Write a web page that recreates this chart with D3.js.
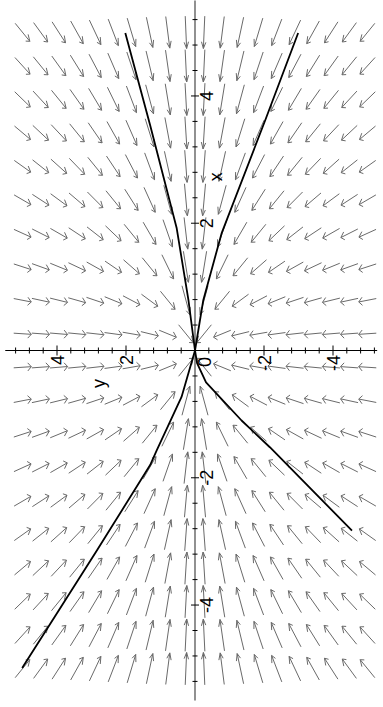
<!DOCTYPE html>
<html>
<head>
<meta charset="utf-8">
<script src="https://cdn.jsdelivr.net/npm/d3@7"></script>
<style>
  html, body { margin: 0; padding: 0; background: #fff; }
  svg { display: block; }
</style>
</head>
<body>
<script>
// Direction field of the linear system  x' = -x ,  y' = -(3/2) y
// drawn turned a quarter turn: x runs up the page, y runs to the left.
const rateX = -1;
const rateY = -1.5;

// arrow grid: 20 x 20 points on [-5, 5] in both variables
const gridExtent = [-5, 5];
const gridCount = 20;
const arrowLength = 0.51;      // in plot units
const barbLength = 0.12;
const barbAngle = 32;          // degrees

// plot window
const xView = [-5.5, 5.5];
const yView = [-5.28, 5.5];
const tickStep = 0.4;
const tickLimit = 5.2;
const xLabels = [-4, -2, 2, 4];
const yLabels = [-4, -2, 2, 4];

// solution curves, as [x, y] points
const curveUpperLeft  = [[0, 0], [0.79, 0.19], [1.92, 0.53], [3.54, 1.30], [4.99, 2.02]];
const curveUpperRight = [[0, 0], [0.79, -0.24], [1.84, -0.77], [3.61, -2.03], [4.99, -2.99]];
const curveLowerRight = [[0, 0], [-0.2, -0.06], [-0.5, -0.32], [-1.10, -1.35], [-1.52, -2.17], [-2.83, -4.55]];
const curveLowerLeft  = [[0, 0], [-0.73, 0.39], [-1.57, 1.11], [-1.80, 1.30], [-3.14, 2.84], [-4.99, 5.01]];
const curves = [curveUpperLeft, curveUpperRight, curveLowerRight, curveLowerLeft];

const W = 383, H = 707;
const svg = d3.select("body").append("svg").attr("width", W).attr("height", H);

// x (vertical on the page) and y (horizontal, increasing to the left)
const sx = d3.scaleLinear().domain([-5.5, 5.5]).range([700.5, 0.5]);
const sy = d3.scaleLinear().domain([5.5, -5.5]).range([5.25, 384.75]);

// ---- direction field ----
const gx = d3.range(gridCount).map(i => gridExtent[0] + i * (gridExtent[1] - gridExtent[0]) / (gridCount - 1));
const pts = [];
gx.forEach(x => gx.forEach(y => pts.push([x, y])));

const rad = barbAngle * Math.PI / 180;
function arrowPath([x, y]) {
  let vx = rateX * x, vy = rateY * y;
  const n = Math.hypot(vx, vy);
  if (n === 0) return "";
  vx /= n; vy /= n;
  const tx = x - vx * arrowLength / 2, ty = y - vy * arrowLength / 2;
  const hx = x + vx * arrowLength / 2, hy = y + vy * arrowLength / 2;
  const b = s => {
    const c = Math.cos(s * rad), si = Math.sin(s * rad);
    const bx = -(vx * c - vy * si), by = -(vx * si + vy * c);
    return [hx + bx * barbLength, hy + by * barbLength];
  };
  const b1 = b(1), b2 = b(-1);
  const P = (a, c) => `${sy(c).toFixed(2)},${sx(a).toFixed(2)}`;
  return `M${P(tx, ty)}L${P(hx, hy)}M${P(b1[0], b1[1])}L${P(hx, hy)}L${P(b2[0], b2[1])}`;
}

svg.append("g")
  .attr("fill", "none")
  .attr("stroke", "#6a6a6a")
  .attr("stroke-width", 1)
  .selectAll("path")
  .data(pts)
  .join("path")
  .attr("d", arrowPath);

// ---- axes through the origin ----
const axes = svg.append("g").attr("stroke", "#000").attr("fill", "none");
// horizontal axis (y)
axes.append("line")
  .attr("x1", sy(yView[1])).attr("x2", sy(yView[0]))
  .attr("y1", sx(0)).attr("y2", sx(0))
  .attr("stroke-width", 1.2);
// vertical axis (x)
axes.append("line")
  .attr("x1", sy(0)).attr("x2", sy(0))
  .attr("y1", sx(xView[1])).attr("y2", sx(xView[0]))
  .attr("stroke", "#555")
  .attr("stroke-width", 1.3);

const ticks = d3.range(-tickLimit, tickLimit + 1e-9, tickStep).map(v => +v.toFixed(2)).filter(v => Math.abs(v) > 1e-9);
const isMajor = v => Math.abs(v / 2 - Math.round(v / 2)) < 1e-6;

axes.selectAll("line.yt").data(ticks).join("line")
  .attr("class", "yt")
  .attr("x1", d => sy(d)).attr("x2", d => sy(d))
  .attr("y1", d => sx(0) - (isMajor(d) ? 5 : 3))
  .attr("y2", d => sx(0) + (isMajor(d) ? 5 : 3))
  .attr("stroke-width", 1);

axes.selectAll("line.xt").data(ticks).join("line")
  .attr("class", "xt")
  .attr("y1", d => sx(d)).attr("y2", d => sx(d))
  .attr("x1", d => sy(0) - (isMajor(d) ? 4 : 2.5))
  .attr("x2", d => sy(0) + (isMajor(d) ? 4 : 2.5))
  .attr("stroke-width", 1);

// ---- solution curves ----
const line = d3.line().x(d => sy(d[1])).y(d => sx(d[0]));
svg.append("g")
  .attr("fill", "none")
  .attr("stroke", "#000")
  .attr("stroke-width", 1.8)
  .attr("stroke-linejoin", "round")
  .selectAll("path")
  .data(curves)
  .join("path")
  .attr("d", line);

// ---- labels (turned with the plot) ----
const font = "'Liberation Sans', Arial, Helvetica, sans-serif";
const fs = 18;
const lab = svg.append("g").attr("font-family", font).attr("font-size", fs).attr("fill", "#000");
const fmt = d => d < 0 ? "-" + Math.abs(d) : String(d);

// y tick labels below the horizontal axis
lab.selectAll("text.yl").data(yLabels).join("text")
  .attr("class", "yl")
  .attr("text-anchor", "end")
  .attr("dy", "0.36em")
  .attr("transform", d => `translate(${sy(d) + 0.8},${sx(0) + 4.5}) rotate(-90)`)
  .text(fmt);

// x tick labels right of the vertical axis
lab.selectAll("text.xl").data(xLabels).join("text")
  .attr("class", "xl")
  .attr("text-anchor", "middle")
  .attr("dy", "0.36em")
  .attr("transform", d => `translate(${sy(0) + 11.5},${sx(d)}) rotate(-90)`)
  .text(fmt);

// origin label
lab.append("text")
  .attr("text-anchor", "middle")
  .attr("dy", "0.36em")
  .attr("transform", `translate(${sy(0) + 9.5},${sx(0) + 11.5}) rotate(-90)`)
  .text("0");

// axis names
lab.append("text")
  .attr("text-anchor", "middle")
  .attr("dy", "0.25em")
  .attr("transform", `translate(${sy(0) + 22},${sx(2.73)}) rotate(-90)`)
  .text("x");
lab.append("text")
  .attr("text-anchor", "middle")
  .attr("dy", "0.25em")
  .attr("transform", `translate(${sy(2.74)},${sx(-0.52)}) rotate(-90)`)
  .text("y");
</script>
</body>
</html>
